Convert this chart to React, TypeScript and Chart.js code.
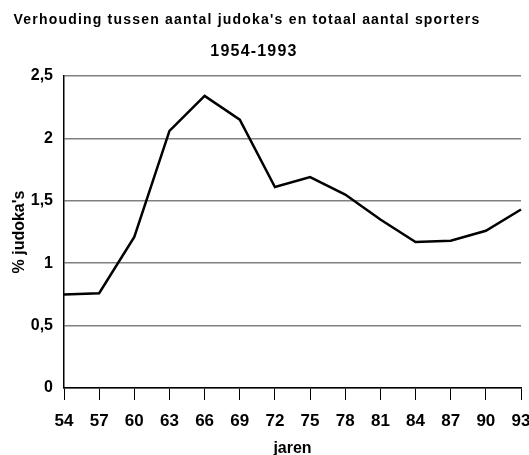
import React, { useEffect, useRef } from "react";
import { Chart, registerables } from "chart.js";

Chart.register(...registerables);

const years = ["54", "57", "60", "63", "66", "69", "72", "75", "78", "81", "84", "87", "90", "93"];
const judokaPct = [0.75, 0.76, 1.21, 2.06, 2.34, 2.15, 1.61, 1.69, 1.55, 1.35, 1.17, 1.18, 1.26, 1.43];
const titleText = "Verhouding tussen aantal judoka's en totaal aantal sporters";
const subtitleText = "1954-1993";
const xTitle = "jaren";
const yTitle = "% judoka's";

const FONT = "'Liberation Sans', Arial, sans-serif";

const titlePlugin = {
  id: "customTitles",
  afterDraw(chart: any) {
    const ctx = chart.ctx;
    ctx.save();
    ctx.fillStyle = "#000";
    ctx.textAlign = "center";
    ctx.textBaseline = "middle";
    ctx.font = `bold 14px ${FONT}`;
    (ctx as any).letterSpacing = "1.2px";
    ctx.fillText(titleText, 247, 20);
    ctx.font = `bold 16px ${FONT}`;
    (ctx as any).letterSpacing = "1.2px";
    ctx.fillText(subtitleText, 254, 52);
    (ctx as any).letterSpacing = "0px";
    ctx.restore();
  },
};

export default function App() {
  const ref = useRef<HTMLCanvasElement | null>(null);
  useEffect(() => {
    if (!ref.current) return;
    const chart = new Chart(ref.current, {
      type: "line",
      data: {
        labels: years,
        datasets: [
          {
            data: judokaPct,
            borderColor: "#000",
            borderWidth: 2.5,
            pointRadius: 0,
            tension: 0,
            fill: false,
          },
        ],
      },
      options: {
        animation: false,
        responsive: true,
        maintainAspectRatio: false,
        layout: { padding: { top: 76, right: 8, left: 0, bottom: 0 } },
        plugins: { legend: { display: false }, title: { display: false }, tooltip: { enabled: false } },
        scales: {
          x: {
            offset: false,
            grid: { drawOnChartArea: false, drawTicks: true, tickLength: 12, color: "#000", lineWidth: 1 },
            border: { display: true, color: "#000", width: 1.5 },
            ticks: { color: "#000", font: { family: FONT, size: 17, weight: "bold" }, padding: 11, maxRotation: 0, autoSkip: false },
            title: { display: true, text: xTitle, color: "#000", font: { family: FONT, size: 16, weight: "bold" }, padding: { top: 0, bottom: -3 } },
            afterFit(scale: any) {
              scale.height = 67;
              scale.paddingLeft = 0;
              scale.paddingRight = 0;
            },
          },
          y: {
            min: 0,
            max: 2.5,
            ticks: {
              stepSize: 0.5,
              color: "#000",
              padding: 11,
              font: { family: FONT, size: 16, weight: "bold" },
              callback: (v: any) => String(v).replace(".", ","),
            },
            grid: { drawTicks: false, color: "#808080", lineWidth: 1.5 },
            border: { display: true, color: "#000", width: 1.5 },
            title: { display: true, text: yTitle, color: "#000", font: { family: FONT, size: 16, weight: "bold" }, padding: { top: 10, bottom: 0 } },
            afterFit(scale: any) {
              scale.width = 64;
            },
          },
        },
      },
      plugins: [titlePlugin],
    } as any);
    return () => chart.destroy();
  }, []);
  return (
    <div style={{ position: "absolute", left: 0, top: 0, width: 529, height: 455, background: "#fff" }}>
      <canvas ref={ref} />
    </div>
  );
}
